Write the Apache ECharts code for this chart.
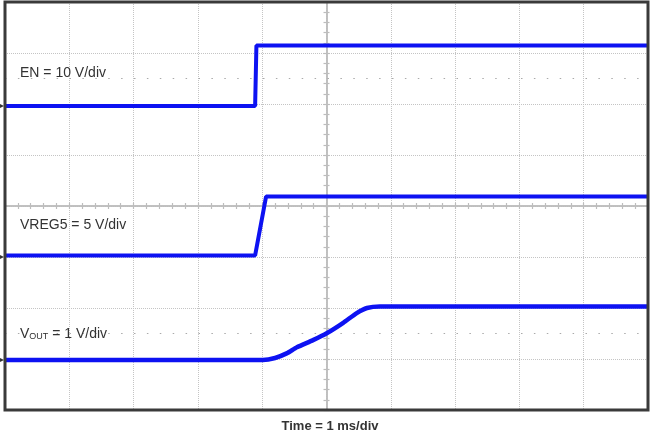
<!DOCTYPE html>
<html>
<head>
<meta charset="utf-8">
<script src="https://cdn.jsdelivr.net/npm/echarts@6/dist/echarts.min.js"></script>
<style>html,body{margin:0;padding:0;background:#fff}#c{width:651px;height:435px}</style>
</head>
<body>
<div id="c"></div>
<script>
// Time in ms relative to the screen centre (trigger point); 1 ms/div, 10 divisions
// EN channel (10 V/div), ground marker at +1.96 div
var enTime  = [-5, -1.11, -1.09, 5];
var enVolts = [0, 0, 11.86, 11.86];
// VREG5 channel (5 V/div), ground marker at -1.0 div
var vregTime  = [-5, -1.11, -0.94, 5];
var vregVolts = [0.15, 0.15, 5.93, 5.93];
// VOUT channel (1 V/div), ground marker at -3.02 div
var voutTime  = [-5, -0.99, -0.80, -0.62, -0.46, -0.21, 0.01, 0.26, 0.47, 0.63, 0.83, 5];
var voutVolts = [0, 0, 0.04, 0.13, 0.25, 0.39, 0.53, 0.73, 0.92, 1.02, 1.05, 1.05];

var channels = [
  {name: 'EN',    label: 'EN = 10 V/div',   scale: 10, offset: 1.96,  t: enTime,   v: enVolts},
  {name: 'VREG5', label: 'VREG5 = 5 V/div', scale: 5,  offset: -1.0,  t: vregTime, v: vregVolts},
  {name: 'VOUT',  label: 'VOUT = 1 V/div',  scale: 1,  offset: -3.02, t: voutTime, v: voutVolts}
];

var chart = echarts.init(document.getElementById('c'), null, {renderer: 'canvas'});
var gridColor = '#c4c4c4';
var centerColor = '#bdbdbd';
var traceColor = '#0d12f2';

function xAx(pos) {
  return {
    type: 'value', min: -5, max: 5, interval: 1, position: pos,
    axisLine: {show: true, onZero: true, lineStyle: {color: centerColor, width: 1.5}},
    axisTick: {show: true, length: 3, lineStyle: {color: centerColor, width: 1.2}},
    minorTick: {show: true, splitNumber: 5, length: 3, lineStyle: {color: centerColor, width: 1.2}},
    axisLabel: {show: false},
    splitLine: {show: pos === 'bottom', lineStyle: {color: gridColor, type: 'dotted', width: 1}}
  };
}
function yAx(pos) {
  return {
    type: 'value', min: -4, max: 4, interval: 1, position: pos,
    axisLine: {show: true, onZero: true, lineStyle: {color: centerColor, width: 1.5}},
    axisTick: {show: true, length: 3, lineStyle: {color: centerColor, width: 1.2}},
    minorTick: {show: true, splitNumber: 5, length: 3, lineStyle: {color: centerColor, width: 1.2}},
    axisLabel: {show: false},
    splitLine: {show: pos === 'left', lineStyle: {color: gridColor, type: 'dotted', width: 1}}
  };
}

var series = channels.map(function (ch, i) {
  var data = ch.t.map(function (t, k) { return [t, ch.offset + ch.v[k] / ch.scale]; });
  var s = {
    name: ch.name, type: 'line', data: data, showSymbol: false,
    smooth: ch.name === 'VOUT' ? 0.2 : false,
    lineStyle: {color: traceColor, width: ch.name === 'VOUT' ? 4.5 : 4},
    itemStyle: {color: traceColor},
    z: 5, silent: true,
    markPoint: {
      silent: true,
      symbol: 'triangle', symbolSize: [6, 6], symbolRotate: -90,
      itemStyle: {color: '#333'},
      label: {show: false},
      data: [{coord: [-5, ch.offset], symbolOffset: [-4, 0]}]
    }
  };
  if (i === 0) {
    s.markLine = {
      silent: true, symbol: 'none', label: {show: false},
      lineStyle: {color: '#aaaaaa', type: [1.5, 11.4], width: 1.2},
      data: [{yAxis: 2.5}, {yAxis: -2.5}]
    };
  }
  return s;
});

var option = {
  animation: false,
  backgroundColor: '#ffffff',
  grid: {left: 5, right: 3, top: 2, bottom: 25, show: true, borderColor: '#3a3a3a', borderWidth: 3, backgroundColor: 'transparent', z: 10},
  xAxis: [xAx('bottom'), xAx('top')],
  yAxis: [yAx('left'), yAx('right')],
  series: series,
  graphic: [
    {type: 'text', x: 20, y: 73, z: 20, style: {text: channels[0].label, font: '14px "Liberation Sans", Arial, sans-serif', fill: '#333', verticalAlign: 'middle'}},
    {type: 'text', x: 20, y: 225, z: 20, style: {text: channels[1].label, font: '14px "Liberation Sans", Arial, sans-serif', fill: '#333', verticalAlign: 'middle'}},
    {type: 'text', x: 20, y: 341, z: 20, style: {
      text: '{a|V}{b|OUT}{a| = 1 V/div}', verticalAlign: 'bottom',
      rich: {
        a: {fontSize: 14, fontFamily: '"Liberation Sans", Arial, sans-serif', fill: '#333', color: '#333', verticalAlign: 'bottom', lineHeight: 16},
        b: {fontSize: 9, fontFamily: '"Liberation Sans", Arial, sans-serif', fill: '#333', color: '#333', verticalAlign: 'bottom', lineHeight: 13}
      }
    }},
    {type: 'text', x: 330, y: 426, z: 20, style: {text: 'Time = 1 ms/div', font: 'bold 13px "Liberation Sans", Arial, sans-serif', fill: '#333', align: 'center', verticalAlign: 'middle'}}
  ]
};
chart.setOption(option);
</script>
</body>
</html>
